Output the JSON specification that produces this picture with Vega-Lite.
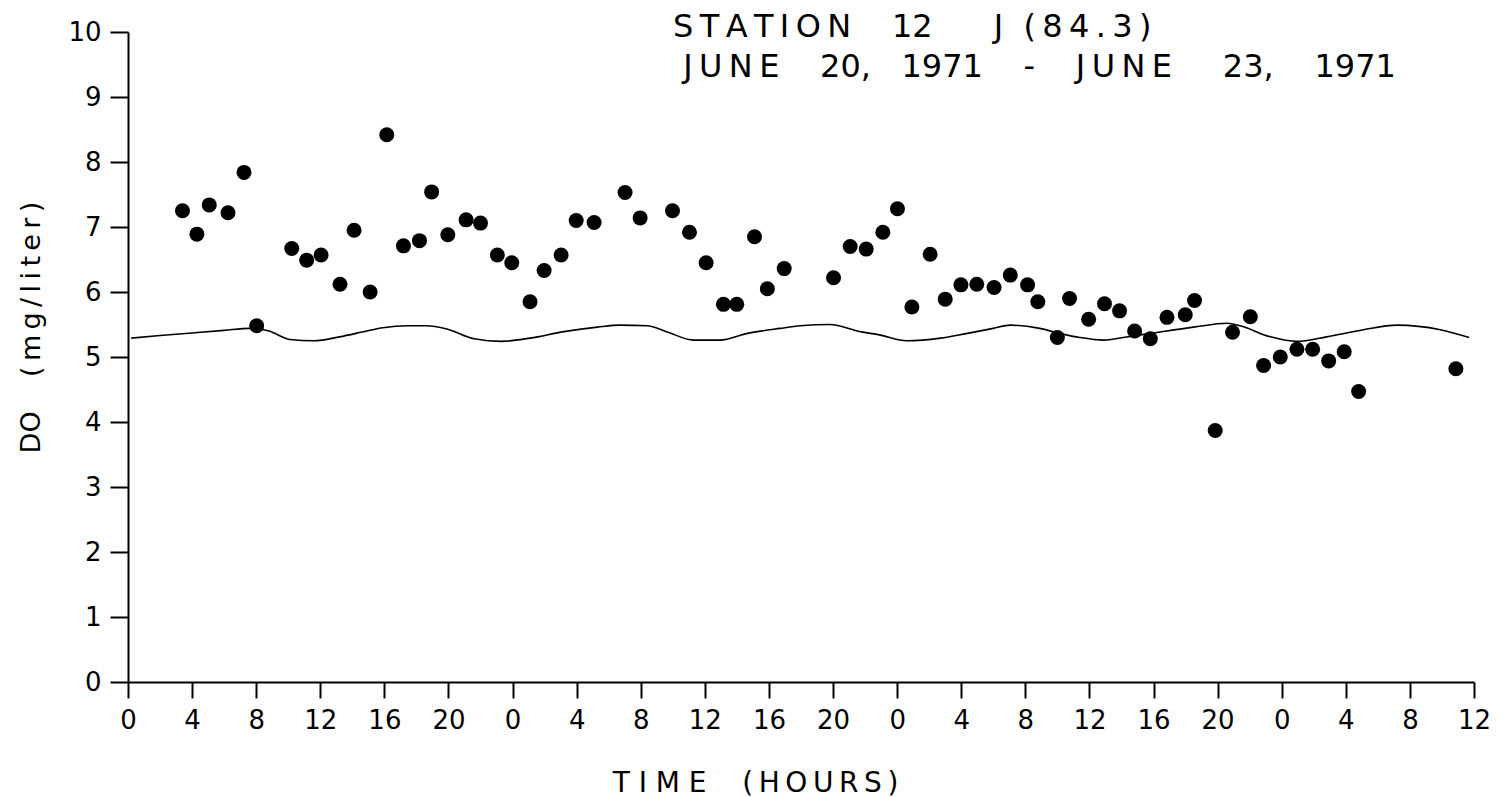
{
  "$schema": "https://vega.github.io/schema/vega-lite/v6.json",
  "width": 1346,
  "height": 650,
  "autosize": {"type": "none"},
  "padding": {"left": 128, "top": 32, "right": 32, "bottom": 115},
  "background": "white",
  "title": {
    "text": [
      "S\u2009T\u2009A\u2009T\u2009I\u2009O\u2009N\u00a0\u00a0\u00a0\u00a012\u00a0\u00a0\u00a0\u00a0\u00a0\u00a0J\u00a0\u00a0(\u20098\u20094\u2009.\u20093\u2009)",
      "\u200b\u00a0J\u2009U\u2009N\u2009E\u00a0\u00a0\u00a0\u00a020,\u00a0\u00a0\u00a01971\u00a0\u00a0\u00a0\u00a0-\u00a0\u00a0\u00a0\u00a0J\u2009U\u2009N\u2009E\u00a0\u00a0\u00a0\u00a0\u00a023,\u00a0\u00a0\u00a0\u00a01971"
    ],
    "anchor": "start",
    "frame": "group",
    "dx": 545,
    "dy": 65,
    "offset": 0,
    "font": "DejaVu Sans",
    "fontSize": 32,
    "fontWeight": "normal",
    "color": "black",
    "lineHeight": 40
  },
  "datasets": {
    "points": [
      {"hour": 3.4, "do": 7.25}, {"hour": 4.3, "do": 6.89}, {"hour": 5.07, "do": 7.34},
      {"hour": 6.24, "do": 7.22}, {"hour": 7.24, "do": 7.84}, {"hour": 8.03, "do": 5.48},
      {"hour": 10.22, "do": 6.67}, {"hour": 11.15, "do": 6.49}, {"hour": 12.05, "do": 6.57},
      {"hour": 13.23, "do": 6.12}, {"hour": 14.11, "do": 6.95}, {"hour": 15.11, "do": 6.0},
      {"hour": 16.15, "do": 8.42}, {"hour": 17.19, "do": 6.71}, {"hour": 18.19, "do": 6.79},
      {"hour": 18.95, "do": 7.54}, {"hour": 19.96, "do": 6.88}, {"hour": 21.1, "do": 7.11},
      {"hour": 22.0, "do": 7.06}, {"hour": 23.05, "do": 6.57}, {"hour": 23.95, "do": 6.45},
      {"hour": 25.09, "do": 5.85}, {"hour": 25.97, "do": 6.33}, {"hour": 27.03, "do": 6.57},
      {"hour": 27.97, "do": 7.1}, {"hour": 29.09, "do": 7.07}, {"hour": 31.02, "do": 7.53},
      {"hour": 31.96, "do": 7.14}, {"hour": 33.98, "do": 7.25}, {"hour": 35.04, "do": 6.92},
      {"hour": 36.08, "do": 6.45}, {"hour": 37.16, "do": 5.81}, {"hour": 37.99, "do": 5.81},
      {"hour": 39.1, "do": 6.85}, {"hour": 39.9, "do": 6.05}, {"hour": 40.95, "do": 6.36},
      {"hour": 44.03, "do": 6.22}, {"hour": 45.07, "do": 6.7}, {"hour": 46.07, "do": 6.66},
      {"hour": 47.11, "do": 6.92}, {"hour": 48.02, "do": 7.28}, {"hour": 48.92, "do": 5.77},
      {"hour": 50.06, "do": 6.58}, {"hour": 51.0, "do": 5.89}, {"hour": 51.98, "do": 6.11},
      {"hour": 52.97, "do": 6.12}, {"hour": 54.05, "do": 6.07}, {"hour": 55.06, "do": 6.26},
      {"hour": 56.14, "do": 6.11}, {"hour": 56.78, "do": 5.85}, {"hour": 58.0, "do": 5.3},
      {"hour": 58.76, "do": 5.9}, {"hour": 59.95, "do": 5.58}, {"hour": 60.94, "do": 5.82},
      {"hour": 61.88, "do": 5.71}, {"hour": 62.82, "do": 5.4}, {"hour": 63.8, "do": 5.28},
      {"hour": 64.84, "do": 5.61}, {"hour": 65.98, "do": 5.65}, {"hour": 66.56, "do": 5.87},
      {"hour": 67.85, "do": 3.87}, {"hour": 68.93, "do": 5.38}, {"hour": 70.04, "do": 5.62},
      {"hour": 70.87, "do": 4.87}, {"hour": 71.91, "do": 5.0}, {"hour": 72.95, "do": 5.12},
      {"hour": 73.93, "do": 5.12}, {"hour": 74.93, "do": 4.94}, {"hour": 75.9, "do": 5.08},
      {"hour": 76.8, "do": 4.47}, {"hour": 82.87, "do": 4.82}
    ],
    "curve": [
      {"hour": 0.2, "do": 5.29}, {"hour": 2, "do": 5.33}, {"hour": 4, "do": 5.37},
      {"hour": 6, "do": 5.41}, {"hour": 7.6, "do": 5.44}, {"hour": 8.8, "do": 5.4},
      {"hour": 10.1, "do": 5.27}, {"hour": 11.6, "do": 5.25}, {"hour": 13.2, "do": 5.31},
      {"hour": 14.9, "do": 5.4}, {"hour": 15.9, "do": 5.45}, {"hour": 17.5, "do": 5.48},
      {"hour": 18.6, "do": 5.48}, {"hour": 19.9, "do": 5.43}, {"hour": 21.6, "do": 5.28},
      {"hour": 23.3, "do": 5.24}, {"hour": 25.1, "do": 5.29}, {"hour": 27.2, "do": 5.39},
      {"hour": 29.3, "do": 5.46}, {"hour": 30.7, "do": 5.49}, {"hour": 32.4, "do": 5.48},
      {"hour": 33.6, "do": 5.39}, {"hour": 35.3, "do": 5.26}, {"hour": 36.95, "do": 5.26},
      {"hour": 38.6, "do": 5.36}, {"hour": 40.7, "do": 5.44}, {"hour": 41.95, "do": 5.48},
      {"hour": 43.8, "do": 5.5}, {"hour": 45.7, "do": 5.39}, {"hour": 46.9, "do": 5.34},
      {"hour": 48.6, "do": 5.25}, {"hour": 50.7, "do": 5.29}, {"hour": 52.3, "do": 5.36},
      {"hour": 54.0, "do": 5.44}, {"hour": 55.06, "do": 5.49}, {"hour": 56.9, "do": 5.44},
      {"hour": 58.2, "do": 5.36}, {"hour": 59.4, "do": 5.3}, {"hour": 60.9, "do": 5.26},
      {"hour": 62.1, "do": 5.3}, {"hour": 64.0, "do": 5.37}, {"hour": 66.5, "do": 5.46},
      {"hour": 68.6, "do": 5.52}, {"hour": 69.4, "do": 5.48}, {"hour": 71.3, "do": 5.31},
      {"hour": 72.95, "do": 5.24}, {"hour": 74.8, "do": 5.31}, {"hour": 77.1, "do": 5.42},
      {"hour": 79.2, "do": 5.49}, {"hour": 81.9, "do": 5.42}, {"hour": 83.7, "do": 5.3}
    ]
  },
  "encoding": {
    "x": {
      "field": "hour",
      "type": "quantitative",
      "scale": {"domain": [0, 84], "nice": false, "zero": false},
      "axis": {
        "values": [0, 4, 8, 12, 16, 20, 24, 28, 32, 36, 40, 44, 48, 52, 56, 60, 64, 68, 72, 76, 80, 84],
        "labelExpr": "'' + (datum.value % 24)",
        "title": "T\u00a0I\u00a0M\u00a0E\u00a0\u00a0\u00a0\u00a0(\u2009H\u2009O\u2009U\u2009R\u2009S\u2009)",
        "titleFontSize": 28,
        "titleX": 627,
        "titleY": 109,
        "titleAlign": "center",
        "titleBaseline": "alphabetic",
        "tickSize": 16,
        "labelPadding": 9
      }
    },
    "y": {
      "field": "do",
      "type": "quantitative",
      "scale": {"domain": [0, 10], "nice": false},
      "axis": {
        "values": [0, 1, 2, 3, 4, 5, 6, 7, 8, 9, 10],
        "title": "DO\u00a0\u00a0\u00a0\u00a0(\u2009m\u2009g\u2009/\u2009l\u2009i\u2009t\u2009e\u2009r\u2009)",
        "titleAngle": -90,
        "titleX": -89,
        "titleY": 295,
        "titleAlign": "center",
        "titleBaseline": "alphabetic",
        "tickSize": 18,
        "labelPadding": 9
      }
    }
  },
  "layer": [
    {
      "data": {"name": "curve"},
      "mark": {"type": "line", "interpolate": "monotone", "color": "black", "strokeWidth": 1.6}
    },
    {
      "data": {"name": "points"},
      "mark": {"type": "circle", "size": 225, "color": "black", "opacity": 1}
    }
  ],
  "config": {
    "view": {"stroke": null},
    "axis": {
      "grid": false,
      "domainColor": "black",
      "domainWidth": 2,
      "tickColor": "black",
      "tickWidth": 2,
      "labelFont": "DejaVu Sans",
      "labelFontSize": 26,
      "labelColor": "black",
      "labelFlush": false,
      "labelOverlap": false,
      "labelBound": false,
      "titleFont": "DejaVu Sans",
      "titleFontSize": 27,
      "titleFontWeight": "normal",
      "titleColor": "black"
    }
  }
}
